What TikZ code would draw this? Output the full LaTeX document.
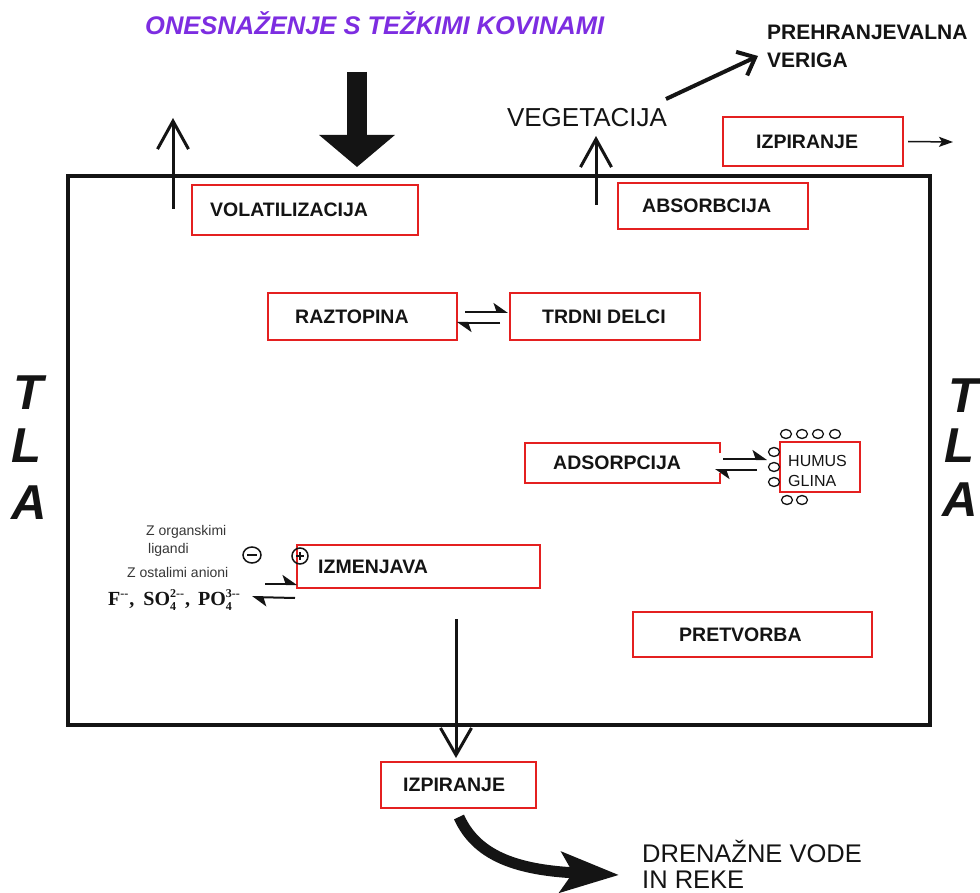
\documentclass[tikz,border=0pt]{standalone}
\usepackage{fontspec}
\setmainfont{Liberation Sans}
\newfontfamily\serifbf{Liberation Serif}
\usetikzlibrary{arrows.meta}
\definecolor{boxred}{RGB}{228,32,32}
\definecolor{titlepurple}{RGB}{125,45,225}
\definecolor{ink}{RGB}{20,20,20}
\definecolor{smallgray}{RGB}{55,55,55}
\newcommand\ionscript[2]{\rlap{\raisebox{-4.5pt}{\fontsize{12}{12}\selectfont #1}}\raisebox{8.5pt}{\fontsize{12}{12}\selectfont #2}}
\begin{document}
\begin{tikzpicture}[x=1pt,y=-1pt,
  box/.style={draw=boxred, line width=2.5pt, inner sep=0pt, outer sep=0pt, anchor=north west},
  frame/.style={inner sep=0pt, outer sep=0pt, anchor=north west},
  lbl/.style={font=\fontsize{19.5}{20}\selectfont\bfseries, text=ink, inner sep=0pt, anchor=west},
  tla/.style={font=\fontsize{49}{50}\selectfont\bfseries\itshape, text=ink, inner sep=0pt},
  small/.style={font=\fontsize{14}{15}\selectfont, text=smallgray, inner sep=0pt, anchor=west},
  hum/.style={font=\fontsize{16}{17}\selectfont, text=ink, inner sep=0pt, anchor=west},
  uparrow/.style={line width=3pt, -{Straight Barb[length=28pt,width=31pt]}},
  eqarrow/.style={line width=2pt, -{Stealth[harpoon,length=13pt,width=18pt,inset=3pt]}},
  bead/.style={line width=1.3pt, draw=ink}
]
\useasboundingbox (0,0) rectangle (980,893);
\fill[white] (0,0) rectangle (980,893);

% title
\node[font=\fontsize{25.5}{26}\selectfont\bfseries\itshape, text=titlepurple, inner sep=0pt, anchor=base west] (title) at (145,35) {ONESNAŽENJE S TEŽKIMI KOVINAMI};

% soil frame
\draw[line width=4pt, draw=ink] (68,176) rectangle (930,725);

% TLA letters
\node[tla] (tl1) at (28,393) {T};
\node[tla] (tl2) at (26,446) {L};
\node[tla] (tl3) at (29,503) {A};
\node[tla] (tr1) at (963,396) {T};
\node[tla] (tr2) at (959,446) {L};
\node[tla] (tr3) at (960,500) {A};

% boxes
\node[box, minimum width=226pt, minimum height=50pt] (vol) at (192,185) {};
\node[lbl] (volt) at ([xshift=18pt]vol.west) {VOLATILIZACIJA};
\node[box, minimum width=190pt, minimum height=46pt] (abs) at (618,183) {};
\node[lbl] (abst) at ([xshift=24pt]abs.west) {ABSORBCIJA};
\node[box, minimum width=180pt, minimum height=49pt] (izpt) at (723,117) {};
\node[lbl] (izptt) at ([xshift=33pt]izpt.west) {IZPIRANJE};
\node[box, minimum width=189pt, minimum height=47pt] (raz) at (268,293) {};
\node[lbl] (razt) at ([xshift=27pt]raz.west) {RAZTOPINA};
\node[box, minimum width=190pt, minimum height=47pt] (trd) at (510,293) {};
\node[lbl] (trdt) at ([xshift=32pt]trd.west) {TRDNI DELCI};
\node[frame, minimum width=195pt, minimum height=40pt] (ads) at (525,443) {};
\draw[draw=boxred, line width=2.5pt] ([yshift=10pt]ads.east) -- (ads.north east) -- (ads.north west) -- (ads.south west) -- (ads.south east) -- ([yshift=-10pt]ads.east);
\node[lbl] (adst) at ([xshift=28pt]ads.west) {ADSORPCIJA};
\node[box, minimum width=80pt, minimum height=50pt] (hum) at (780,442) {};
\node[hum] (humt) at (788,461) {HUMUS};
\node[hum] (glit) at (788,481) {GLINA};
\node[box, minimum width=243pt, minimum height=43pt] (izm) at (297,545) {};
\node[lbl] (izmt) at ([xshift=21pt]izm.west) {IZMENJAVA};
\node[box, minimum width=239pt, minimum height=45pt] (pret) at (633,612) {};
\node[lbl] (prett) at ([xshift=46pt]pret.west) {PRETVORBA};
\node[box, minimum width=155pt, minimum height=46pt] (izpb) at (381,762) {};
\node[lbl] (izpbt) at ([xshift=22pt]izpb.west) {IZPIRANJE};

% beads around humus / glina
\foreach \bx/\by in {786/434,802/434,818/434,835/434,774/452,774/467,774/482,787/500,802/500}
  \draw[bead] (\bx,\by) ellipse [x radius=5.5, y radius=4.5];

% outside texts
\node[font=\fontsize{26}{27}\selectfont, text=ink, inner sep=0pt] (veg) at (587,118) {VEGETACIJA};
\node[font=\fontsize{21}{22}\selectfont\bfseries, text=ink, inner sep=0pt, anchor=west] (prehr) at (767,32.5) {PREHRANJEVALNA};
\node[font=\fontsize{21}{22}\selectfont\bfseries, text=ink, inner sep=0pt, anchor=west] (verig) at (767,60.5) {VERIGA};
\node[font=\fontsize{25.5}{26}\selectfont, text=ink, inner sep=0pt, anchor=base west] (dren) at (642,862) {DRENAŽNE VODE};
\node[font=\fontsize{25.5}{26}\selectfont, text=ink, inner sep=0pt, anchor=base west] (reke) at (642,888) {IN REKE};

% pollution arrow
\coordinate (polA) at (357,72);
\coordinate (polB) at (357,167);
\draw[line width=20pt, draw=ink, -{Triangle[length=32pt,width=74pt]}] (polA) -- (polB);

% up arrows
\coordinate (volA) at (173,209);
\coordinate (volB) at (173,118);
\draw[uparrow, draw=ink] (volA) -- (volB);
\coordinate (vegA) at (596,205);
\coordinate (vegB) at (596,136);
\draw[uparrow, draw=ink] (vegA) -- (vegB);

% vegetation to food chain
\coordinate (fcA) at (666,99);
\coordinate (fcB) at (758,56);
\draw[line width=4pt, draw=ink, -{Straight Barb[length=15pt,width=26pt]}] (fcA) -- (fcB);

% small leaching arrow at the top right
\coordinate (lrB) at (953,142);
\draw[line width=1.5pt, draw=ink, -{Stealth[length=14pt,width=10pt,inset=3pt]}] ([xshift=5pt]izpt.east) -- (lrB);

% leaching down
\coordinate (ldA) at (456,619);
\coordinate (ldB) at (456,758);
\draw[line width=3pt, draw=ink, -{Straight Barb[length=27pt,width=31pt]}] (ldA) -- (ldB);

% drainage curved arrow
\coordinate (drA) at (459,817);
\coordinate (drB) at (619,875);
\draw[line width=11pt, draw=ink, -{Stealth[length=58pt,width=40pt,inset=12pt]}] (drA) .. controls (476,855) and (515,870) .. (drB);

% equilibria
\draw[eqarrow, draw=ink] ([xshift=8pt,yshift=4.5pt]raz.east) -- ([xshift=-2pt,yshift=4.5pt]trd.west);
\draw[eqarrow, draw=ink] ([xshift=-10pt,yshift=-6.5pt]trd.west) -- ([yshift=-6.5pt]raz.east);
\draw[eqarrow, draw=ink] ([xshift=3pt,yshift=4pt]ads.east) -- ([xshift=-13pt,yshift=8pt]hum.west);
\draw[eqarrow, draw=ink] ([xshift=-23pt,yshift=-3pt]hum.west) -- ([xshift=-5pt,yshift=-7pt]ads.east);
\coordinate (ionR) at (252,597);
\draw[eqarrow, draw=ink] ([xshift=-32pt,yshift=4pt]izm.south west) -- ([yshift=4pt]izm.south west);
\draw[eqarrow, draw=ink] ([xshift=-2pt,yshift=-10pt]izm.south west) -- (ionR);

% charges
\draw[line width=1.5pt, draw=ink] (252,555) ellipse [x radius=9, y radius=8];
\draw[line width=1.5pt, draw=ink] (247,555) -- (257,555);
\draw[line width=1.5pt, draw=ink] (300,556) circle [radius=8];
\draw[line width=1.5pt, draw=ink] (296,556) -- (304,556) (300,552) -- (300,560);

% ligand texts
\node[small] (lig1) at (146,532) {Z organskimi};
\node[small] (lig2) at (148,550) {ligandi};
\node[small] (lig3) at (127,572) {Z ostalimi anioni};
\node[font=\serifbf\bfseries\fontsize{20}{21}\selectfont, text=ink, inner sep=0pt, anchor=west] (ions) at (108,600) {F\raisebox{8.5pt}{\fontsize{12}{12}\selectfont --}\kern1pt, \kern4pt SO\ionscript{4}{2--}\kern1pt, \kern3pt PO\ionscript{4}{3--}};
\end{tikzpicture}
\end{document}
